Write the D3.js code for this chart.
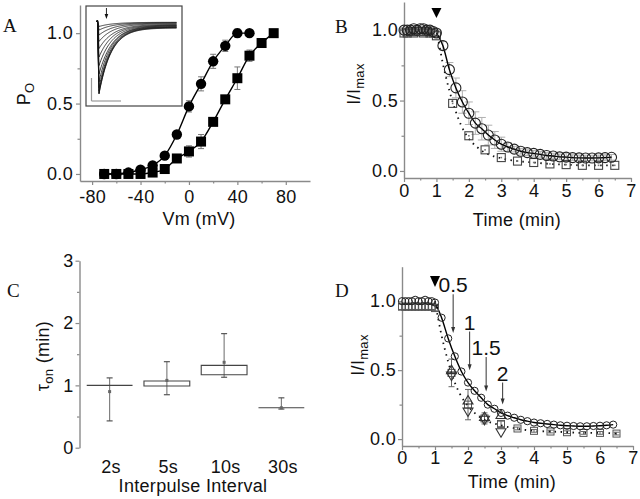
<!DOCTYPE html>
<html><head><meta charset="utf-8">
<script src="https://cdn.jsdelivr.net/npm/d3@7"></script>
<style>
body{margin:0;background:#fff}
svg{display:block}
text{font-family:"Liberation Sans",Arial,sans-serif;fill:#111}
</style>
</head><body>
<svg id="c" width="640" height="499"></svg>
<script>
// ---------- Panel A data ----------
const aCircVm  = [-70,-60,-50,-40,-30,-20,-10,0,10,20,30,40,50];
const aCircPo  = [0,0,0.01,0.03,0.06,0.13,0.28,0.48,0.64,0.80,0.91,1.0,1.0];
const aCircErr = [0,0,0,0,0,0,0.01,0.04,0.05,0.05,0.04,0.03,0];
const aSqVm    = [-70,-60,-50,-40,-30,-20,-10,0,10,20,30,40,50,60,70];
const aSqPo    = [0,0,0,0,0.01,0.035,0.11,0.16,0.23,0.37,0.53,0.68,0.84,0.93,1.0];
const aSqErr   = [0,0,0,0,0,0,0.01,0.04,0.05,0.01,0.01,0.08,0.04,0,0];
const aXTicks  = [-80,-40,0,40,80];
const aXMinor  = [-60,-20,20,60];
const aYTicks  = [0,0.5,1.0];
const aYMinor  = [0.25,0.75];
// inset current traces (normalized peak, decay, steady level)
const insetPeak   = [0.05,0.1,0.17,0.26,0.36,0.48,0.6,0.72,0.83,0.91,0.96,0.99,1.0];
const insetTau    = [16,15,15,14,14,13,13,13,12,12,12,12,12];
const insetSteady = [0.01,0.005,0,-0.01,-0.02,-0.03,-0.035,-0.04,-0.05,-0.055,-0.06,-0.065,-0.07];

// ---------- Panel B data ----------
const bCircT = [0,0.1,0.2,0.3,0.4,0.5,0.6,0.7,0.8,0.9,1.0,1.2,1.4,1.6,1.8,2.0,2.2,2.4,2.6,2.8,3.0,3.2,3.4,3.6,3.8,4.0,4.2,4.4,4.6,4.8,5.0,5.2,5.4,5.6,5.8,6.0,6.2,6.4];
const bCircV = [1.0,1.0,1.0,1.01,1.0,1.01,1.01,1.0,1.0,0.99,0.98,0.89,0.72,0.59,0.49,0.41,0.34,0.30,0.255,0.22,0.19,0.17,0.155,0.14,0.13,0.125,0.118,0.11,0.106,0.10,0.098,0.095,0.093,0.092,0.092,0.093,0.095,0.097];
const bCircE = [0.02,0.02,0.02,0.02,0.02,0.02,0.02,0.02,0.02,0.02,0.02,0.03,0.05,0.07,0.08,0.08,0.08,0.08,0.07,0.06,0.05,0.03,0.02,0.02,0.02,0.02,0.02,0.02,0.02,0.02,0.03,0.02,0.02,0.02,0.02,0.02,0.02,0.02];
const bSqT = [0,0.1,0.2,0.3,0.4,0.5,0.6,0.7,0.8,0.9,1.0,1.5,2.0,2.5,3.0,3.5,4.0,4.5,5.0,5.5,6.0,6.5];
const bSqV = [0.98,0.98,0.99,0.98,0.99,0.99,0.98,0.99,0.98,0.98,0.96,0.48,0.25,0.15,0.095,0.07,0.06,0.05,0.045,0.04,0.04,0.04];
const bFitT = [1.0,1.1,1.2,1.3,1.4,1.5,1.6,1.75,2.0,2.25,2.5,3.0,3.5,4.0,4.5,5.0,5.5,6.0,6.5];
const bFitV = [1.0,0.88,0.76,0.66,0.57,0.49,0.42,0.33,0.23,0.17,0.13,0.09,0.07,0.06,0.05,0.045,0.04,0.04,0.04];
const tXTicks = [0,1,2,3,4,5,6,7];
const tXMinor = [0.5,1.5,2.5,3.5,4.5,5.5,6.5];
const iYTicks = [0,0.5,1.0];
const iYMinor = [0.25,0.75];
const pulseT = 1;

// ---------- Panel C data ----------
const cCats = ["2s","5s","10s","30s"];
const cQ1   = [1.0,0.99,1.17,0.64];
const cQ3   = [1.0,1.07,1.32,0.64];
const cMin  = [0.43,0.85,1.13,0.62];
const cMax  = [1.12,1.38,1.83,0.80];
const cMean = [0.90,1.08,1.37,0.64];
const cYTicks = [0,1,2,3];
const cYMinor = [0.5,1.5,2.5];

// ---------- Panel D data ----------
const dCircT = [0,0.1,0.2,0.3,0.4,0.5,0.6,0.7,0.8,0.9,1.0,1.2,1.4,1.6,1.8,2.0,2.2,2.4,2.6,2.8,3.0,3.2,3.4,3.6,3.8,4.0,4.2,4.4,4.6,4.8,5.0,5.2,5.4,5.6,5.8,6.0,6.2,6.4];
const dCircV = [1.0,1.0,1.0,1.0,1.01,1.0,1.0,1.01,1.0,1.0,0.99,0.88,0.73,0.60,0.49,0.41,0.35,0.30,0.25,0.22,0.19,0.17,0.155,0.14,0.13,0.12,0.115,0.11,0.105,0.10,0.097,0.095,0.093,0.093,0.095,0.097,0.10,0.105];
const dSqT = [0,0.1,0.2,0.3,0.4,0.5,0.6,0.7,0.8,0.9,1.0,1.5,2.0,2.5,3.0,3.5,4.0,4.5,5.0,5.5,6.0,6.5];
const dSqV = [0.96,0.96,0.96,0.96,0.96,0.96,0.96,0.96,0.96,0.96,0.95,0.48,0.25,0.15,0.11,0.077,0.06,0.055,0.05,0.045,0.045,0.04];
const dSqE = [0.02,0.02,0.02,0.02,0.02,0.02,0.02,0.02,0.02,0.02,0.02,0.1,0.11,0.04,0.02,0.01,0.01,0.01,0.01,0.01,0.01,0.01];
const dUpT = [1.5,2.0,2.5,3.0];
const dUpV = [0.50,0.28,0.16,0.175];
const dDnT = [1.5,2.0,2.5,3.0];
const dDnV = [0.46,0.20,0.14,0.05];
const dFitT = [1.0,1.1,1.2,1.3,1.4,1.5,1.6,1.75,2.0,2.25,2.5,3.0,3.5,4.0,4.5,5.0,5.5,6.0,6.5];
const dFitV = [1.0,0.87,0.75,0.65,0.56,0.48,0.41,0.33,0.24,0.18,0.14,0.10,0.075,0.06,0.055,0.05,0.045,0.045,0.04];
const arrowLabels = ["0.5","1","1.5","2"];
const arrowT      = [1.55,2.05,2.55,3.05];
const arrowTopV   = [1.05,0.78,0.595,0.41];
const arrowTipV   = [0.77,0.50,0.345,0.25];

// ================= drawing =================
const svg = d3.select("#c");
const AX = "#8a8a8a";
const FS = 18, LS = "0.3px";

function styleAxis(g){
  g.attr("font-family",null).attr("font-size",null);
  g.select(".domain").attr("stroke",AX).attr("stroke-width",1.4);
  g.selectAll(".tick line").attr("stroke",AX).attr("stroke-width",1.2);
  g.selectAll(".tick text").attr("font-size",FS).attr("letter-spacing",LS)
    .style("font-family","'Liberation Sans',Arial,sans-serif").attr("fill","#111");
}
function addAxes(g, x, y, o){
  const xb = g.append("g").attr("transform",`translate(0,${o.xAt})`)
    .call(d3.axisBottom(x).tickValues(o.xt).tickSize(4).tickSizeOuter(0).tickPadding(o.xpad).tickFormat(d=>String(d)));
  styleAxis(xb);
  const xm = g.append("g").attr("transform",`translate(0,${o.xAt})`)
    .call(d3.axisBottom(x).tickValues(o.xm).tickSize(2.5).tickFormat(""));
  styleAxis(xm); xm.select(".domain").remove();
  const yl = g.append("g").attr("transform",`translate(${o.yAt},0)`)
    .call(d3.axisLeft(y).tickValues(o.yt).tickSize(4).tickSizeOuter(0).tickPadding(o.ypad).tickFormat(d3.format(".1f")));
  styleAxis(yl);
  const ym = g.append("g").attr("transform",`translate(${o.yAt},0)`)
    .call(d3.axisLeft(y).tickValues(o.ym).tickSize(2.5).tickFormat(""));
  styleAxis(ym); ym.select(".domain").remove();
}
function errBars(g, xs, ys, es, x, y, color, cap){
  xs.forEach((t,i)=>{
    const e = es[i]; if(!e) return;
    const cx = x(t);
    g.append("line").attr("x1",cx).attr("x2",cx).attr("y1",y(ys[i]-e)).attr("y2",y(ys[i]+e))
      .attr("stroke",color).attr("stroke-width",1);
    [ys[i]-e, ys[i]+e].forEach(v=>g.append("line").attr("x1",cx-cap).attr("x2",cx+cap)
      .attr("y1",y(v)).attr("y2",y(v)).attr("stroke",color).attr("stroke-width",1));
  });
}
function label(g, x, y, txt, opts={}){
  return g.append("text").attr("x",x).attr("y",y).attr("text-anchor",opts.anchor||"middle")
    .attr("font-size",opts.size||FS).attr("letter-spacing",opts.ls||LS).text(txt);
}
function subLabel(g, cx, cy, main, sub, rest){
  const t = g.append("text").attr("transform",`translate(${cx},${cy}) rotate(-90)`)
    .attr("text-anchor","middle").attr("font-size",FS).attr("letter-spacing",LS);
  t.append("tspan").text(main);
  t.append("tspan").attr("font-size",13).attr("dy",4).text(sub);
  if(rest) t.append("tspan").attr("dy",-4).text(rest);
}
function panelLetter(x,y,t){
  svg.append("text").attr("x",x).attr("y",y).attr("font-size",19)
    .style("font-family","'Liberation Serif','Times New Roman',serif").text(t);
}
function triDown(g,cx,top,w,h){
  g.append("path").attr("d",`M${cx-w/2},${top}L${cx+w/2},${top}L${cx},${top+h}Z`).attr("fill","#000");
}

// ---------- Panel A ----------
{
  const g = svg.append("g");
  const x = d3.scaleLinear().domain([-90,100]).range([80,310]);
  const y = d3.scaleLinear().domain([-0.05,1.2]).range([181,5]);
  addAxes(g,x,y,{xAt:181,yAt:80,xt:aXTicks,xm:aXMinor,yt:aYTicks,ym:aYMinor,xpad:5,ypad:3});
  errBars(g,aCircVm,aCircPo,aCircErr,x,y,"#777",3);
  errBars(g,aSqVm,aSqPo,aSqErr,x,y,"#777",3);
  const line = d3.line().curve(d3.curveMonotoneX);
  g.append("path").attr("d",line(aCircVm.map((v,i)=>[x(v),y(aCircPo[i])]))).attr("fill","none").attr("stroke","#000").attr("stroke-width",1.4);
  g.append("path").attr("d",line(aSqVm.map((v,i)=>[x(v),y(aSqPo[i])]))).attr("fill","none").attr("stroke","#000").attr("stroke-width",1.4);
  aSqVm.forEach((v,i)=>g.append("rect").attr("x",x(v)-5).attr("y",y(aSqPo[i])-5).attr("width",10).attr("height",10).attr("fill","#000"));
  aCircVm.forEach((v,i)=>g.append("circle").attr("cx",x(v)).attr("cy",y(aCircPo[i])).attr("r",5.2).attr("fill","#000"));
  label(g,199,225,"Vm (mV)");
  subLabel(g,30,94,"P","O");
  // inset
  const ig = g.append("g");
  ig.append("rect").attr("x",86).attr("y",6).attr("width",96).attr("height",100).attr("fill","#fff").attr("stroke","#444").attr("stroke-width",1.2);
  const xi = d3.scaleLinear().domain([0,80]).range([97.5,177]);
  const yi = d3.scaleLinear().domain([-1,0]).range([94,23]);
  const tl = d3.line().curve(d3.curveLinear);
  insetPeak.forEach((p,k)=>{
    const pts = [[xi(-0.5),yi(0.02)],[xi(0),yi(0.04)]];
    for(let t=1.5;t<=80;t+=0.6){
      const v = -p*Math.exp(-(t-1.5)/insetTau[k]) + insetSteady[k]*(1-Math.exp(-(t-1.5)/8));
      pts.push([xi(t),yi(v)]);
    }
    ig.append("path").attr("d",tl(pts)).attr("fill","none").attr("stroke","#111").attr("stroke-width",0.8);
  });
  ig.append("line").attr("x1",xi(9)).attr("x2",xi(9)).attr("y1",8).attr("y2",17).attr("stroke","#111").attr("stroke-width",0.9);
  ig.append("path").attr("d",`M${xi(9)-1.8},14L${xi(9)+1.8},14L${xi(9)},19Z`).attr("fill","#111");
  ig.append("line").attr("x1",91.5).attr("x2",91.5).attr("y1",78).attr("y2",101).attr("stroke","#999").attr("stroke-width",1.2);
  ig.append("line").attr("x1",91.5).attr("x2",121).attr("y1",101).attr("y2",101).attr("stroke","#999").attr("stroke-width",1.2);
}
panelLetter(3,32,"A");

// ---------- Panel B ----------
{
  const g = svg.append("g");
  const x = d3.scaleLinear().domain([0,7]).range([404,631]);
  const y = d3.scaleLinear().domain([-0.05,1.2]).range([178,2]);
  addAxes(g,x,y,{xAt:178,yAt:404,xt:tXTicks,xm:tXMinor,yt:iYTicks,ym:iYMinor,xpad:2,ypad:2});
  errBars(g,bCircT,bCircV,bCircE,x,y,"#b0b0b0",4);
  const line = d3.line().curve(d3.curveMonotoneX);
  g.append("path").attr("d",line(bFitT.map((t,i)=>[x(t),y(bFitV[i])]))).attr("fill","none").attr("stroke","#111").attr("stroke-width",1.8).attr("stroke-dasharray","1.5,4.5");
  const ci = bCircT.map((t,i)=>i).filter(i=>bCircT[i]>=1.0);
  g.append("path").attr("d",line(ci.map(i=>[x(bCircT[i]),y(bCircV[i])]))).attr("fill","none").attr("stroke","#000").attr("stroke-width",1.4);
  bSqT.forEach((t,i)=>{
    g.append("rect").attr("x",x(t)-4).attr("y",y(bSqV[i])-4).attr("width",8).attr("height",8).attr("fill","none").attr("stroke","#444").attr("stroke-width",1.1);
    g.append("rect").attr("x",x(t)-0.8).attr("y",y(bSqV[i])-0.8).attr("width",1.6).attr("height",1.6).attr("fill","#777");
  });
  bCircT.forEach((t,i)=>g.append("circle").attr("cx",x(t)).attr("cy",y(bCircV[i])).attr("r",5).attr("fill","none").attr("stroke","#222").attr("stroke-width",1.1));
  triDown(g,x(pulseT),8,10,10);
  label(g,517,226,"Time (min)");
  subLabel(g,360,84,"I/I","max");
}
panelLetter(335,33,"B");

// ---------- Panel C ----------
{
  const g = svg.append("g");
  const x = d3.scaleBand().domain(cCats).range([81,310]).paddingInner(0.2).paddingOuter(0.1);
  const y = d3.scaleLinear().domain([0,3]).range([447.7,260.7]);
  const yl = g.append("g").attr("transform","translate(79.5,0)")
    .call(d3.axisLeft(y).tickValues(cYTicks).tickSize(4).tickSizeOuter(0).tickPadding(2).tickFormat(d3.format("d")));
  styleAxis(yl);
  const ym = g.append("g").attr("transform","translate(79.5,0)")
    .call(d3.axisLeft(y).tickValues(cYMinor).tickSize(2.5).tickFormat(""));
  styleAxis(ym); ym.select(".domain").remove();
  cCats.forEach((c,i)=>{
    const x0 = x(c), x1 = x(c)+x.bandwidth(), cx = x(c)+x.bandwidth()/2;
    g.append("line").attr("x1",cx).attr("x2",cx).attr("y1",y(cMin[i])).attr("y2",y(cMax[i])).attr("stroke","#777").attr("stroke-width",1.1);
    [cMin[i],cMax[i]].forEach(v=>g.append("line").attr("x1",cx-3).attr("x2",cx+3).attr("y1",y(v)).attr("y2",y(v)).attr("stroke","#555").attr("stroke-width",1.2));
    g.append("path").attr("d",`M${x0},${y(cQ3[i])}H${x1}V${y(cQ1[i])}H${x0}Z`).attr("fill","none").attr("stroke","#444").attr("stroke-width",1.1);
    g.append("rect").attr("x",cx-1.5).attr("y",y(cMean[i])-1.5).attr("width",3).attr("height",3).attr("fill","#666");
    label(g,cx+1.5,473,c);
  });
  label(g,193,492,"Interpulse Interval");
  subLabel(g,49,356,"τ","on"," (min)");
}
panelLetter(7,297,"C");

// ---------- Panel D ----------
{
  const g = svg.append("g");
  const x = d3.scaleLinear().domain([0,7]).range([402,633]);
  const y = d3.scaleLinear().domain([-0.05,1.25]).range([446,266.7]);
  addAxes(g,x,y,{xAt:446,yAt:402,xt:tXTicks,xm:tXMinor,yt:iYTicks,ym:iYMinor,xpad:1.5,ypad:2});
  errBars(g,dSqT,dSqV,dSqE,x,y,"#666",3);
  const line = d3.line().curve(d3.curveMonotoneX);
  g.append("path").attr("d",line(dFitT.map((t,i)=>[x(t),y(dFitV[i])]))).attr("fill","none").attr("stroke","#111").attr("stroke-width",1.8).attr("stroke-dasharray","1.5,4.5");
  const ci = dCircT.map((t,i)=>i).filter(i=>dCircT[i]>=1.0);
  g.append("path").attr("d",line(ci.map(i=>[x(dCircT[i]),y(dCircV[i])]))).attr("fill","none").attr("stroke","#000").attr("stroke-width",1.4);
  dSqT.forEach((t,i)=>g.append("rect").attr("x",x(t)-3.5).attr("y",y(dSqV[i])-3.5).attr("width",7).attr("height",7).attr("fill","none").attr("stroke","#555").attr("stroke-width",1));
  dUpT.forEach((t,i)=>{const cx=x(t),cy=y(dUpV[i]);
    g.append("path").attr("d",`M${cx},${cy-5}L${cx+5},${cy+3.5}L${cx-5},${cy+3.5}Z`).attr("fill","none").attr("stroke","#333").attr("stroke-width",1.1);});
  dDnT.forEach((t,i)=>{const cx=x(t),cy=y(dDnV[i]);
    g.append("path").attr("d",`M${cx},${cy+5}L${cx+5},${cy-3.5}L${cx-5},${cy-3.5}Z`).attr("fill","none").attr("stroke","#333").attr("stroke-width",1.1);});
  dCircT.forEach((t,i)=>g.append("circle").attr("cx",x(t)).attr("cy",y(dCircV[i])).attr("r",3.6).attr("fill","none").attr("stroke","#222").attr("stroke-width",1));
  triDown(g,x(pulseT),276,10,11);
  arrowT.forEach((t,i)=>{
    const cx = x(t), y0 = y(arrowTopV[i]), y1 = y(arrowTipV[i]);
    g.append("line").attr("x1",cx).attr("x2",cx).attr("y1",y0).attr("y2",y1-4).attr("stroke","#333").attr("stroke-width",1);
    g.append("path").attr("d",`M${cx-2},${y1-6}L${cx+2},${y1-6}L${cx},${y1}Z`).attr("fill","#333");
    label(g,cx,y0-2,arrowLabels[i],{size:21,ls:"0px"});
  });
  label(g,512,488,"Time (min)");
  subLabel(g,364,355,"I/I","max");
}
panelLetter(335,297,"D");
</script>
</body></html>
